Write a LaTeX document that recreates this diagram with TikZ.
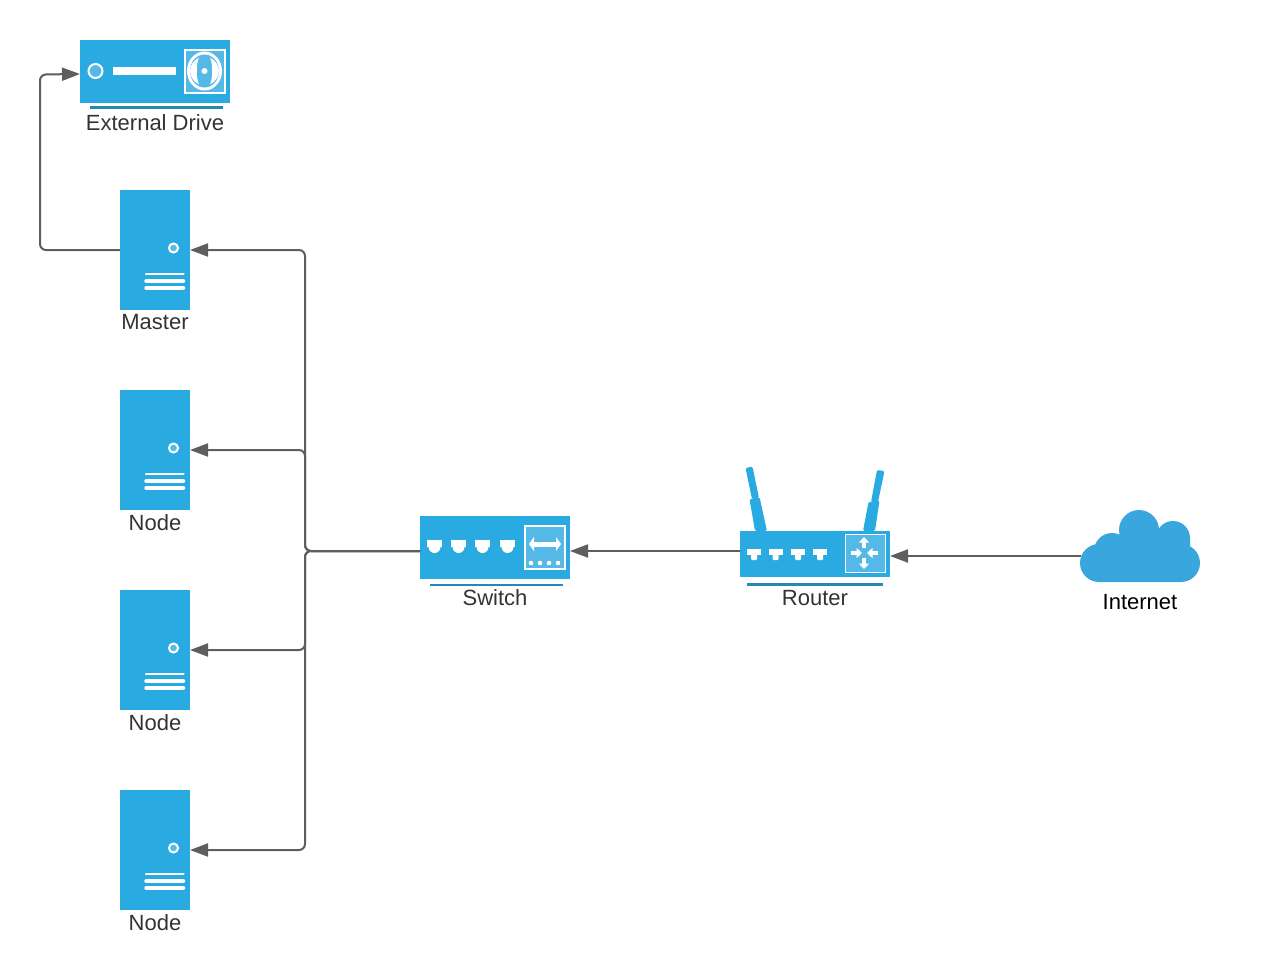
\documentclass[tikz,border=0pt]{standalone}
\usepackage{fontspec}
\usepackage{xcolor}
\setmainfont{Liberation Sans}
\usetikzlibrary{arrows.meta}

\definecolor{devblue}{HTML}{29ABE2}
\definecolor{paleblue}{HTML}{55B9E8}
\definecolor{rulblue}{HTML}{2389B5}
\definecolor{cloudblue}{HTML}{3AA6DE}
\definecolor{linegray}{HTML}{5E5E5E}
\definecolor{textgray}{HTML}{333333}

\tikzset{
  server/.style={fill=devblue, minimum width=70pt, minimum height=120pt, inner sep=0pt, outer sep=0pt},
  panel/.style={fill=devblue, minimum width=150pt, inner sep=0pt, outer sep=0pt},
  caption/.style={text=textgray, font=\fontsize{22}{26}\selectfont, inner sep=0pt},
  link/.style={draw=linegray, line width=2pt, rounded corners=6pt},
  tip/.style={-{Triangle[length=18pt,width=13pt]}},
  whitetip/.style={draw=white, line width=3.5pt, -{Triangle[length=5.5pt,width=10pt]}},
  inset/.style={fill=paleblue, draw=white},
  underrule/.style={draw=rulblue},
}

\begin{document}
\begin{tikzpicture}[x=1pt,y=-1pt]

\useasboundingbox (0,0) rectangle (1270,980);

% links first, devices go on top
\coordinate (drivein) at (80,74);
\coordinate (switchout) at (420,551);
\coordinate (switchin) at (570,551);
\coordinate (routerout) at (740,551);
\coordinate (routerin) at (890,556);
\coordinate (cloudout) at (1081,556);
\coordinate (bus) at (305,551);

% servers
\foreach \name/\y/\txt in {master/190/Master, nodea/390/Node, nodeb/590/Node, nodec/790/Node}
{
   \node[server] (\name) at (155,\y+60) {};
   \node[caption] (\name label) at (155,\y+132.5) {\txt};
   \fill[paleblue, draw=white, line width=2pt] (173.5,\y+58) circle (4.5pt);
   \draw[white, line width=2.5pt, line cap=round] (146,\y+84) -- (183.5,\y+84);
   \draw[white, line width=3.5pt, line cap=round] (146,\y+91) -- (183.5,\y+91);
   \draw[white, line width=3.5pt, line cap=round] (146,\y+98) -- (183.5,\y+98);
}

% external drive
\node[panel, minimum height=63pt] (drive) at (155,71.5) {};
\node[caption] (drivelabel) at (155,122.5) {External Drive};
\draw[underrule, line width=2.5pt] (90,107.5) -- (223,107.5);
\fill[paleblue, draw=white, line width=2pt] (95.5,71) circle (7pt);
\fill[white] (113,67.3) rectangle (176,75);
\filldraw[inset, line width=2pt] (185,50) rectangle (224.5,93);
\fill[white] (204.5,71) ellipse (17.5pt and 19.5pt);
\fill[paleblue] (204.5,71) ellipse (14.5pt and 16.5pt);
\fill[white] (199,57.5) .. controls (187,64) and (187,78) .. (199,84.5) .. controls (196,78) and (196,64) .. (199,57.5);
\fill[white] (210,57.5) .. controls (222,64) and (222,78) .. (210,84.5) .. controls (213,78) and (213,64) .. (210,57.5);
\fill[white] (204.5,71) circle (3pt);

% switch
\node[panel, minimum height=63pt] (switch) at (495,547.5) {};
\node[caption] (switchlabel) at (495,598) {Switch};
\draw[underrule, line width=2pt] (430,584.5) -- (563,584.5);
\foreach \x in {427, 451, 475, 500}
{
   \fill[white] (\x,540) rectangle (\x+15,547);
   \fill[white] (\x+7.5,547) circle (6pt);
}
\filldraw[inset, line width=2pt] (525,526) rectangle (564.5,569);
\draw[draw=white, line width=5pt, {Triangle[length=5pt,width=14pt]}-{Triangle[length=5pt,width=14pt]}] (529,544) -- (561,544);
\foreach \x in {531, 540, 549, 558}
   \fill[white] (\x,563) circle (2.3pt);

% router
\fill[devblue, rounded corners=1.5pt] (755,531) -- (749.5,499) -- (759.5,497) -- (767,531) -- cycle;
\fill[devblue, rounded corners=1.5pt] (752,499) -- (745.5,468) -- (752.5,466.5) -- (759,498) -- cycle;
\fill[devblue, rounded corners=1.5pt] (863,531) -- (868.5,502) -- (879.5,500.5) -- (875,531) -- cycle;
\fill[devblue, rounded corners=1.5pt] (871,502) -- (877,470) -- (884.5,471) -- (878,502) -- cycle;
\node[panel, minimum height=46pt] (router) at (815,554) {};
\node[caption] (routerlabel) at (815,598) {Router};
\draw[underrule, line width=3pt] (747,584.5) -- (883,584.5);
\foreach \x in {747, 768.5, 791, 813}
{
   \fill[white] (\x,549) rectangle (\x+14,554.5);
   \fill[white, rounded corners=1pt] (\x+4,553) rectangle (\x+10,560);
}
\filldraw[inset, line width=1pt] (845,534.5) rectangle (885,572);
\draw[whitetip] (864,548) -- (864,537);
\draw[whitetip] (864,558) -- (864,569);
\draw[whitetip] (851,553) -- (862,553);
\draw[whitetip] (878,553) -- (867,553);

% cloud
\node[minimum width=120pt, minimum height=72pt, inner sep=0pt] (internet) at (1140,546) {};
\node[caption, text=black] (internetlabel) at (1140,602) {Internet};
\fill[cloudblue] (1099,563) circle (19pt) (1181,563) circle (19pt)
   (1112,551) circle (18pt) (1139,530) circle (20pt) (1173,538) circle (17pt)
   (1099,546) rectangle (1181,582) (1125,538) rectangle (1190,560);

% connectors
\draw[link, tip] (cloudout) -- (routerin);
\draw[link, tip] (routerout) -- (switchin);
\foreach \name in {master, nodea, nodeb, nodec}
   \draw[link, tip] (switchout) -- (bus) |- (\name.east);
\draw[link, tip] (master.west) -| (40,74.5) -- (drivein);

\end{tikzpicture}
\end{document}
